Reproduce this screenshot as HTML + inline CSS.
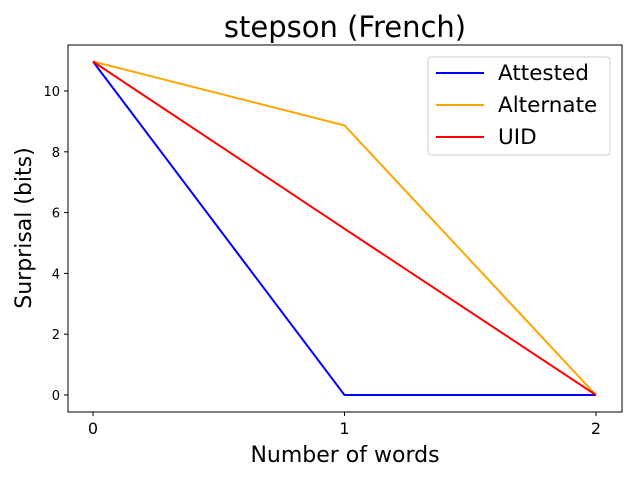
<!DOCTYPE html>
<html><head><meta charset="utf-8"><style>
body{margin:0;background:#fff;}
svg{display:block;font-family:"DejaVu Sans","Liberation Sans",sans-serif;}
</style></head><body>
<svg id="chart" width="640" height="480">
<text x="345" y="37" font-size="29" text-anchor="middle">stepson (French)</text>
<g id="axes"></g>
<g id="lines"></g>
<rect x="68" y="45" width="554" height="367" fill="none" stroke="#000" stroke-width="1"/>
<text x="345" y="462" font-size="22" text-anchor="middle">Number of words</text>
<text transform="translate(31,228) rotate(-90)" font-size="22" text-anchor="middle">Surprisal (bits)</text>
<g>
<rect x="428" y="57" width="182" height="98" rx="3" fill="#fff" stroke="#ccc"/>
<line x1="436" y1="73" x2="484" y2="73" stroke="blue" stroke-width="2"/>
<text x="498" y="80" font-size="21.5">Attested</text>
<line x1="436" y1="105" x2="484" y2="105" stroke="orange" stroke-width="2"/>
<text x="498" y="112" font-size="21.5">Alternate</text>
<line x1="436" y1="137" x2="484" y2="137" stroke="red" stroke-width="2"/>
<text x="498" y="144" font-size="21.5">UID</text>
</g>
</svg>
<script>
const categories=[0,1,2];
const attested=[10.97,0,0];
const alternate=[10.97,8.87,0];
const uid=[10.97,5.47,0];
const yTicks=[0,2,4,6,8,10];
const xTicks=["0","1","2"];
const NS="http://www.w3.org/2000/svg";
function xs(v){return 93+v*(596-93)/2;}
function ys(v){return 395-v*30.4;}
const axes=document.getElementById('axes');
yTicks.forEach(t=>{
 const l=document.createElementNS(NS,'line');
 l.setAttribute('x1',64);l.setAttribute('x2',68);l.setAttribute('y1',ys(t));l.setAttribute('y2',ys(t));l.setAttribute('stroke','#000');
 
 
 axes.appendChild(l);
 const tx=document.createElementNS(NS,'text');
 tx.setAttribute('x',60);tx.setAttribute('y',ys(t)+5);tx.setAttribute('font-size','13');tx.setAttribute('text-anchor','end');tx.textContent=t;
 
 
 axes.appendChild(tx);
});
categories.forEach((c,i)=>{
 const l=document.createElementNS(NS,'line');
 l.setAttribute('x1',xs(c));l.setAttribute('x2',xs(c));l.setAttribute('y1',412);l.setAttribute('y2',416);l.setAttribute('stroke','#000');
 
 
 axes.appendChild(l);
 const tx=document.createElementNS(NS,'text');
 tx.setAttribute('x',xs(c));tx.setAttribute('y',434);tx.setAttribute('font-size','16');tx.setAttribute('text-anchor','middle');tx.textContent=xTicks[i];
 
 
 axes.appendChild(tx);
});
const lines=document.getElementById('lines');
[[attested,'blue','attested-line'],[alternate,'orange','alternate-line'],[uid,'red','uid-line']].forEach(([d,c,n])=>{
 const p=document.createElementNS(NS,'polyline');
 p.setAttribute('points',d.map((v,i)=>xs(categories[i])+','+ys(v)).join(' '));
 p.setAttribute('fill','none');p.setAttribute('stroke',c);p.setAttribute('stroke-width','2');
 
 
 lines.appendChild(p);
});
</script>
</body></html>
